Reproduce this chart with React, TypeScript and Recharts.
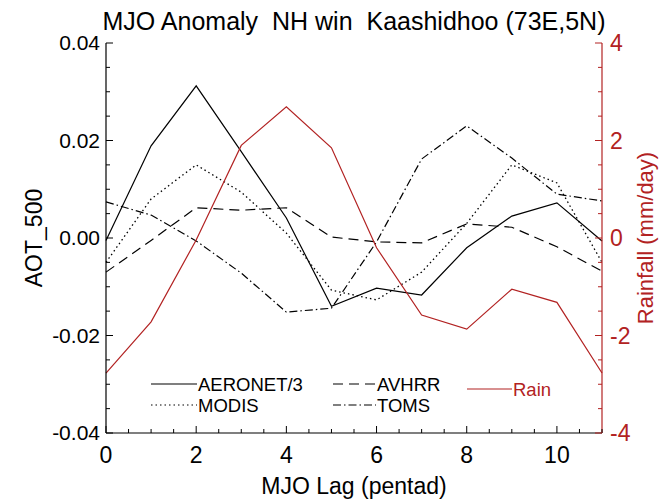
import { ComposedChart, Line, XAxis, YAxis } from 'recharts';

const RED = '#B22222';
const FONT = '"Liberation Sans", Arial, Helvetica, sans-serif';

// MJO lag (pentad)
const lags = [0, 1, 2, 3, 4, 5, 6, 7, 8, 9, 10, 11];
// AOT_500 anomalies
const aeronet = [-0.0005, 0.0189, 0.0312, 0.0177, 0.0041, -0.014, -0.0103, -0.0117, -0.002, 0.0045, 0.0072, -0.0006];
const modis = [-0.005, 0.008, 0.015, 0.0094, 0.001, -0.0107, -0.0127, -0.007, 0.003, 0.015, 0.0113, -0.005];
const avhrr = [-0.007, -0.0005, 0.0062, 0.0057, 0.0062, 0.0002, -0.0008, -0.001, 0.0029, 0.0022, -0.0018, -0.0068];
const toms = [0.0074, 0.0047, -0.0006, -0.0072, -0.0152, -0.0144, -0.0008, 0.0162, 0.023, 0.0164, 0.009, 0.0076];
// rainfall anomaly (mm/day)
const rain = [-2.77, -1.72, -0.04, 1.9, 2.69, 1.85, -0.2, -1.58, -1.87, -1.05, -1.32, -2.77];

const xTicks = [0, 0.5, 1, 1.5, 2, 2.5, 3, 3.5, 4, 4.5, 5, 5.5, 6, 6.5, 7, 7.5, 8, 8.5, 9, 9.5, 10, 10.5, 11];
const xLabels = [0, 2, 4, 6, 8, 10];
const aotTicks = [-0.04, -0.035, -0.03, -0.025, -0.02, -0.015, -0.01, -0.005, 0, 0.005, 0.01, 0.015, 0.02, 0.025, 0.03, 0.035, 0.04];
const aotLabels = ['-0.04', '-0.02', '0.00', '0.02', '0.04'];
const rainTicks = [-4, -3.5, -3, -2.5, -2, -1.5, -1, -0.5, 0, 0.5, 1, 1.5, 2, 2.5, 3, 3.5, 4];
const rainLabels = [-4, -2, 0, 2, 4];

const data = lags.map((lag, i) => ({
  lag,
  aeronet: aeronet[i],
  modis: modis[i],
  avhrr: avhrr[i],
  toms: toms[i],
  rain: rain[i],
}));

const isMajorX = (v: number) => xLabels.includes(v);

function BottomTick({ x, y, payload }: any) {
  const v = payload.value;
  const len = isMajorX(v) ? 7 : 4;
  return (
    <g>
      <line x1={x} x2={x} y1={y} y2={y - len} stroke="#000" strokeWidth={1} />
      {isMajorX(v) && (
        <text x={x} y={y + 30} textAnchor="middle" fontSize={23} fontFamily={FONT} fill="#000">
          {v}
        </text>
      )}
    </g>
  );
}

function TopTick({ x, y, payload }: any) {
  const len = isMajorX(payload.value) ? 7 : 4;
  return <line x1={x} x2={x} y1={y} y2={y + len} stroke="#000" strokeWidth={1} />;
}

function LeftTick({ x, y, payload }: any) {
  const v = payload.value;
  const idx = aotTicks.indexOf(v);
  const major = idx % 4 === 0;
  return (
    <g>
      <line x1={x} x2={x + (major ? 7 : 4)} y1={y} y2={y} stroke="#000" strokeWidth={1} />
      {major && (
        <text x={x - 6} y={y + 7} textAnchor="end" fontSize={21} fontFamily={FONT} fill="#000">
          {aotLabels[idx / 4]}
        </text>
      )}
    </g>
  );
}

function RightTick({ x, y, payload }: any) {
  const v = payload.value;
  const major = rainLabels.includes(v);
  return (
    <g>
      <line x1={x} x2={x - (major ? 7 : 4)} y1={y} y2={y} stroke={RED} strokeWidth={1} />
      {major && (
        <text x={x + 8} y={y + 8} textAnchor="start" fontSize={23} fontFamily={FONT} fill={RED}>
          {v}
        </text>
      )}
    </g>
  );
}

const legendRows = [
  { label: 'AERONET/3', dash: undefined, x: 151, y: 384, len: 46, color: '#000' },
  { label: 'MODIS', dash: '1.5 3', x: 151, y: 405, len: 46, color: '#000' },
  { label: 'AVHRR', dash: '10 6', x: 333, y: 384, len: 43, color: '#000' },
  { label: 'TOMS', dash: '8 3 1.5 3', x: 333, y: 405, len: 43, color: '#000' },
  { label: 'Rain', dash: undefined, x: 467, y: 389, len: 45, color: RED },
];

export default function App() {
  return (
    <div style={{ position: 'absolute', left: 0, top: 0, width: 661, height: 500, background: '#fff' }}>
      <ComposedChart width={661} height={500} data={data} margin={{ top: 43, right: 0, bottom: 0, left: 0 }}>
        <XAxis
          xAxisId="bottom"
          dataKey="lag"
          type="number"
          domain={[0, 11]}
          ticks={xTicks}
          interval={0}
          height={67}
          tickSize={0}
          tickMargin={0}
          tickLine={false}
          tick={<BottomTick />}
          axisLine={{ stroke: '#000', strokeWidth: 1.2 }}
        />
        <XAxis
          xAxisId="top"
          orientation="top"
          dataKey="lag"
          type="number"
          domain={[0, 11]}
          ticks={xTicks}
          interval={0}
          height={0}
          tickSize={0}
          tickMargin={0}
          tickLine={false}
          tick={<TopTick />}
          axisLine={{ stroke: '#000', strokeWidth: 1.2 }}
        />
        <YAxis
          yAxisId="left"
          domain={[-0.04, 0.04]}
          ticks={aotTicks}
          interval={0}
          width={106}
          tickSize={0}
          tickMargin={0}
          tickLine={false}
          tick={<LeftTick />}
          axisLine={{ stroke: '#000', strokeWidth: 1.2 }}
          allowDataOverflow
        />
        <YAxis
          yAxisId="right"
          orientation="right"
          domain={[-4, 4]}
          ticks={rainTicks}
          interval={0}
          width={59}
          tickSize={0}
          tickMargin={0}
          tickLine={false}
          tick={<RightTick />}
          axisLine={{ stroke: RED, strokeWidth: 1.2 }}
          allowDataOverflow
        />
        <Line xAxisId="bottom" yAxisId="left" dataKey="aeronet" stroke="#000" strokeWidth={1.2} dot={false} isAnimationActive={false} />
        <Line xAxisId="bottom" yAxisId="left" dataKey="modis" stroke="#000" strokeWidth={1.3} strokeDasharray="1.5 3" dot={false} isAnimationActive={false} />
        <Line xAxisId="bottom" yAxisId="left" dataKey="avhrr" stroke="#000" strokeWidth={1.2} strokeDasharray="10 6" dot={false} isAnimationActive={false} />
        <Line xAxisId="bottom" yAxisId="left" dataKey="toms" stroke="#000" strokeWidth={1.2} strokeDasharray="8 3 1.5 3" dot={false} isAnimationActive={false} />
        <Line xAxisId="bottom" yAxisId="right" dataKey="rain" stroke={RED} strokeWidth={1.2} dot={false} isAnimationActive={false} />
      </ComposedChart>
      <svg width={661} height={500} style={{ position: 'absolute', left: 0, top: 0, pointerEvents: 'none' }}>
        <text x={354} y={30} textAnchor="middle" fontSize={25} fontFamily={FONT} fill="#000" style={{ whiteSpace: 'pre' }}>
          MJO Anomaly  NH win  Kaashidhoo (73E,5N)
        </text>
        <text x={354} y={494} textAnchor="middle" fontSize={23} fontFamily={FONT} fill="#000">
          MJO Lag (pentad)
        </text>
        <text x={42} y={238} textAnchor="middle" fontSize={23} fontFamily={FONT} fill="#000" transform="rotate(-90 42 238)">
          AOT_500
        </text>
        <text x={653} y={238} textAnchor="middle" fontSize={22} fontFamily={FONT} fill={RED} transform="rotate(-90 653 238)">
          Rainfall (mm/day)
        </text>
        {legendRows.map((r) => (
          <g key={r.label}>
            <line x1={r.x} x2={r.x + r.len} y1={r.y} y2={r.y} stroke={r.color} strokeWidth={1.2} strokeDasharray={r.dash} />
            <text x={r.x + r.len + 1} y={r.y + 7} fontSize={18.5} fontFamily={FONT} fill={r.color}>
              {r.label}
            </text>
          </g>
        ))}
      </svg>
    </div>
  );
}
